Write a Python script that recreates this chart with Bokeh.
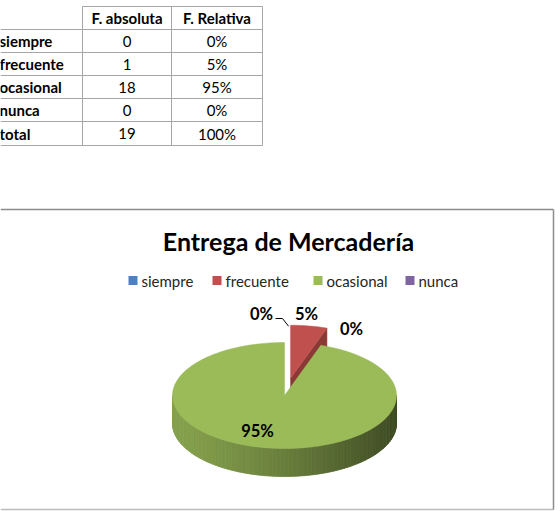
import math
from bokeh.plotting import figure
from bokeh.models import Range1d
from bokeh.core.properties import value
from bokeh.embed import file_html
from bokeh.resources import INLINE

# ---------------- data ----------------
categories = ["siempre", "frecuente", "ocasional", "nunca"]
f_absoluta = [0, 1, 18, 0]
f_relativa = ["0%", "5%", "95%", "0%"]
total_label = "total"
total_abs = 19
total_rel = "100%"
header = ["F. absoluta", "F. Relativa"]
title = "Entrega de Mercadería"
colors = ["#4F81BD", "#C0504D", "#9BBB59", "#8064A2"]
explode = [0.0, 0.33, 0.0, 0.0]

FONT = "Lato"

p = figure(width=560, height=511, x_range=Range1d(0, 560), y_range=Range1d(511, 0),
           output_backend="svg", toolbar_location=None, min_border=0)
p.axis.visible = False
p.grid.visible = False
p.outline_line_color = None
p.background_fill_color = "white"
p.border_fill_color = "white"

# ---------------- table ----------------
col_x = [82, 171, 262]
row_y = [6, 29, 52, 75, 98, 121, 145]
gcol = "#a6a6a6"
p.line([col_x[0], col_x[2]], [row_y[0], row_y[0]], line_color=gcol, line_width=1)
for yy in row_y[1:]:
    p.line([0, col_x[2]], [yy, yy], line_color=gcol, line_width=1)
for xx in col_x:
    p.line([xx, xx], [row_y[0], row_y[-1]], line_color=gcol, line_width=1)

c1 = (col_x[0] + col_x[1]) / 2
c2 = (col_x[1] + col_x[2]) / 2
hy = (row_y[0] + row_y[1]) / 2
p.text([c1, c2], [hy, hy], text=header, text_align="center", text_baseline="middle",
       text_font=value(FONT), text_font_style="bold", text_font_size="15px", text_color="black")

labels_rows = categories + [total_label]
abs_rows = [str(v) for v in f_absoluta] + [str(total_abs)]
rel_rows = f_relativa + [total_rel]
ys = [(row_y[i + 1] + row_y[i + 2]) / 2 for i in range(len(labels_rows))]
p.text([-1] * len(ys), ys, text=labels_rows, text_align="left", text_baseline="middle",
       text_font=value(FONT), text_font_style="bold", text_font_size="15px", text_color="black")
p.text([c1] * len(ys), ys, text=abs_rows, text_align="center", text_baseline="middle",
       text_font=value(FONT), text_font_size="15px", text_color="black")
p.text([c2] * len(ys), ys, text=rel_rows, text_align="center", text_baseline="middle",
       text_font=value(FONT), text_font_size="15px", text_color="black")

# ---------------- chart frame ----------------
fcol = "#8c8c8c"
p.line([0, 553], [209, 209], line_color=fcol, line_width=1.5)
p.line([0, 553], [509, 509], line_color="#bdbdbd", line_width=1.5)
p.line([553, 553], [209, 509], line_color=fcol, line_width=1.5)

p.text([288], [240], text=[title], text_align="center", text_baseline="middle",
       text_font=value(FONT), text_font_style="bold", text_font_size="25px", text_color="black")

# legend
leg_x = [128, 212, 313, 405]
leg_y = 280
p.rect([x + 4.5 for x in leg_x], [leg_y] * 4, width=9, height=9, fill_color=colors, line_color=None)
p.text([x + 13 for x in leg_x], [leg_y] * 4, text=categories, text_align="left", text_baseline="middle",
       text_font=value(FONT), text_font_size="15px", text_color="#262626")

# ---------------- 3D pie ----------------
cx, cy, rx, ry, depth = 284, 395, 112, 53, 28
total = sum(f_absoluta)
fracs = [v / total for v in f_absoluta]
starts, ends = [], []
acc = 0.0
for f in fracs:
    starts.append(acc * 360)
    acc += f
    ends.append(acc * 360)


def pt(theta, ox=0.0, oy=0.0, dz=0.0):
    t = math.radians(theta)
    return cx + ox + rx * math.sin(t), cy + oy - ry * math.cos(t) + dz


def shade(hexc, f):
    r, g, b = int(hexc[1:3], 16), int(hexc[3:5], 16), int(hexc[5:7], 16)
    return "#%02x%02x%02x" % (int(r * f), int(g * f), int(b * f))


order = sorted([i for i in range(len(categories)) if fracs[i] > 0], key=lambda i: fracs[i])
offsets = {}
for i in order:
    mid = (starts[i] + ends[i]) / 2
    e = explode[i]
    ox = e * rx * math.sin(math.radians(mid))
    oy = -e * ry * math.cos(math.radians(mid))
    offsets[i] = (ox, oy)
    a0, a1 = starts[i], ends[i]
    col = colors[i]
    lo, hi = max(a0, 90), min(a1, 270)
    if hi > lo:
        n = max(2, int((hi - lo) / 2))
        sx, sy, sc = [], [], []
        for k in range(n):
            t0 = lo + (hi - lo) * k / n
            t1 = lo + (hi - lo) * (k + 1) / n
            p0 = pt(t0, ox, oy)
            p1 = pt(t1, ox, oy)
            sx.append([p0[0], p1[0], p1[0], p0[0]])
            sy.append([p0[1], p1[1], p1[1] + depth, p0[1] + depth])
            xm = (p0[0] + p1[0]) / 2
            tt = (xm - (cx - rx)) / (2 * rx)
            tt = min(max(tt, 0), 1)
            fct = 0.86 - 0.46 * tt ** 1.3
            sc.append(shade(col, fct))
        p.patches(sx, sy, fill_color=sc, line_color=sc, line_width=0.8)
    apex = (cx + ox, cy + oy)
    if 0 < a1 < 180:
        r1 = pt(a1, ox, oy)
        p.patch([apex[0], r1[0], r1[0], apex[0]], [apex[1], r1[1], r1[1] + depth, apex[1] + depth],
                fill_color=shade(col, 0.72), line_color=shade(col, 0.72), line_width=0.5)
    if 180 < a0 < 360:
        r0 = pt(a0, ox, oy)
        p.patch([apex[0], r0[0], r0[0], apex[0]], [apex[1], r0[1], r0[1] + depth, apex[1] + depth],
                fill_color=shade(col, 0.6), line_color=shade(col, 0.6), line_width=0.5)
    n = max(3, int((a1 - a0) / 1.5))
    xs = [apex[0]]
    yy = [apex[1]]
    for k in range(n + 1):
        q = pt(a0 + (a1 - a0) * k / n, ox, oy)
        xs.append(q[0])
        yy.append(q[1])
    p.patch(xs, yy, fill_color=col, line_color=col, line_width=0.5)

# data labels (layout anchors relative to pie centre)
label_offsets = [(-23, -82), (22, -82), (-27, 35), (67, -67)]
lx = [cx + d[0] for d in label_offsets]
ly = [cy + d[1] for d in label_offsets]
p.text(lx, ly, text=f_relativa, text_align="center", text_baseline="middle",
       text_font=value(FONT), text_font_style="bold", text_font_size="16.5px", text_color="black")

fi = order[0]
ox, oy = offsets[fi]
tip = pt(starts[fi], ox, oy)
p.line([lx[0] + 14, lx[0] + 21, tip[0] - 2], [ly[0] + 5, ly[0] + 5, tip[1] + 1],
       line_color="black", line_width=1)

open("out.html", "w").write(file_html(p, INLINE))
